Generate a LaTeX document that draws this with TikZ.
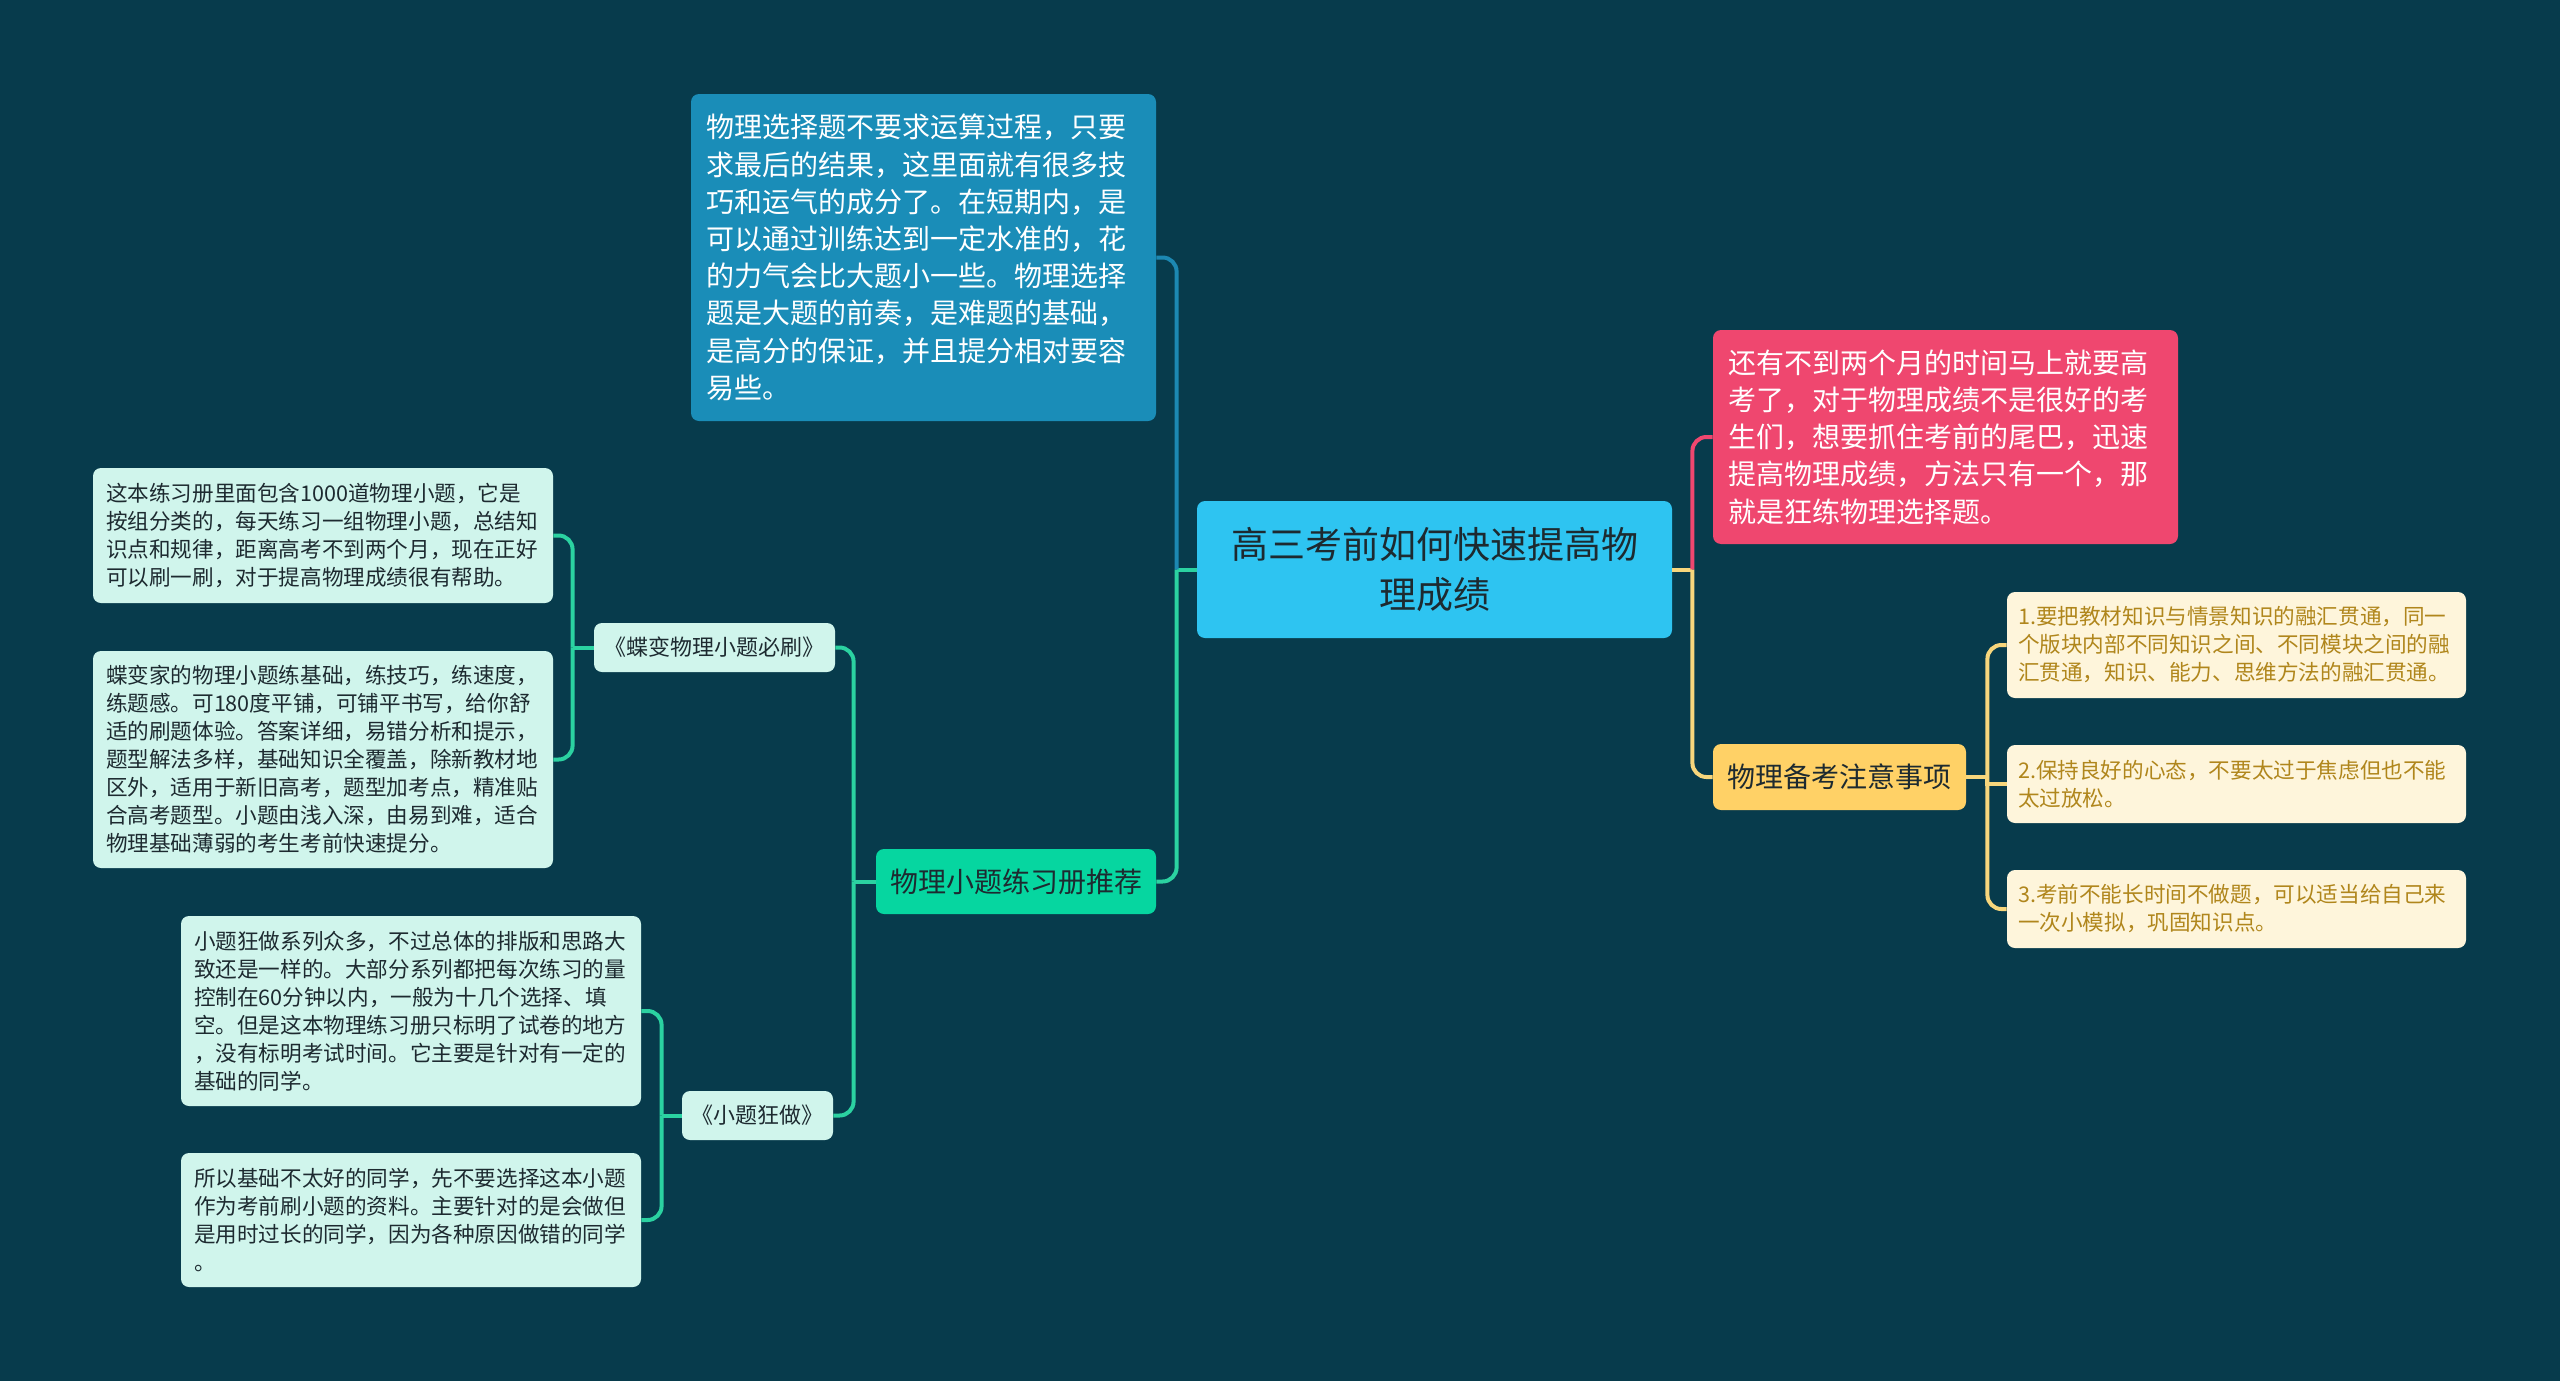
\documentclass[tikz,border=0pt]{standalone}
\usepackage{fontspec}
\setmainfont{Noto Sans CJK SC}
\usepackage{xcolor}
\usepackage{tikz}
\definecolor{pbg}{HTML}{073B4C}
\definecolor{proot}{HTML}{2EC4F1}
\definecolor{pblue}{HTML}{1A8DB8}
\definecolor{pblued}{HTML}{1C88B2}
\definecolor{ppink}{HTML}{EF476F}
\definecolor{pgreen}{HTML}{06D6A0}
\definecolor{pgreend}{HTML}{2BD2A1}
\definecolor{pyellow}{HTML}{FFD166}
\definecolor{pyellowd}{HTML}{F7D67C}
\definecolor{pmint}{HTML}{D0F5EC}
\definecolor{pcream}{HTML}{FEF5DB}
\definecolor{pcreamt}{HTML}{B0861C}
\definecolor{pink}{HTML}{1D2A30}
\newcommand{\szroot}{\fontsize{18.5pt}{25pt}\selectfont}
\newcommand{\szcard}{\fontsize{14pt}{18.6pt}\selectfont}
\newcommand{\sztitle}{\fontsize{11pt}{13pt}\selectfont}
\newcommand{\szleaf}{\fontsize{10.8pt}{14pt}\selectfont}
\tikzset{
  % Rounded card in one of the palette colours.
  card/.style    = {rectangle, rounded corners=4pt, fill=#1, inner ysep=0pt},
  card/.default  = pmint,
  bigcard/.style = {card=#1, text=white, font=\szcard, align=left,
                    inner xsep=7.5pt, text width=217.5pt},
  head/.style    = {card=#1, text=pink, font=\szcard, align=center, inner xsep=0pt},
  title/.style   = {card=pmint, text=pink, font=\sztitle, align=center, inner xsep=0pt,
                    minimum height=24.5pt},
  leaf/.style    = {card=pmint, text=pink, font=\szleaf, align=left,
                    inner xsep=6.5pt, text width=217pt},
  tip/.style     = {card=pcream, text=pcreamt, font=\szleaf, align=left,
                    inner xsep=5.5pt, text width=218.5pt},
  link/.style    = {line width=2pt, draw=#1},
  twig/.style    = {line width=2pt, draw=#1, rounded corners=7pt},
}
\begin{document}
\begin{tikzpicture}[x=0.5pt, y=-0.5pt]
\fill[pbg] (0,0) rectangle (2560,1381);
\node[card=proot, text=pink, font=\szroot, align=center, minimum width=237.5pt,
      minimum height=68.5pt] (root) at (1434.5,569.5) {高三考前如何快速提高物\\理成绩};
\node[bigcard=pblue, minimum height=163.5pt] (info) at (923.5,257.5)
  {物理选择题不要求运算过程，只要\\求最后的结果，这里面就有很多技\\巧和运气的成分了。在短期内，是\\可以通过训练达到一定水准的，花\\的力气会比大题小一些。物理选择\\题是大题的前奏，是难题的基础，\\是高分的保证，并且提分相对要容\\易些。};
\node[bigcard=ppink, minimum height=107pt] (intro) at (1945.5,437)
  {还有不到两个月的时间马上就要高\\考了，对于物理成绩不是很好的考\\生们，想要抓住考前的尾巴，迅速\\提高物理成绩，方法只有一个，那\\就是狂练物理选择题。};
\node[head=pgreen, minimum width=140pt, minimum height=32.5pt] (books) at (1016,881.5) {物理小题练习册推荐};
\node[head=pyellow, minimum width=126.5pt, minimum height=33pt] (tips) at (1839.5,777) {物理备考注意事项};
\node[title, minimum width=120.5pt] (diebian) at (714.5,647.5) {《蝶变物理小题必刷》};
\node[title, minimum width=75.5pt] (kuangzuo) at (757.5,1115.5) {《小题狂做》};
\node[leaf, minimum height=67.5pt] (dbA) at (323,535.5)
  {这本练习册里面包含1000道物理小题，它是\\按组分类的，每天练习一组物理小题，总结知\\识点和规律，距离高考不到两个月，现在正好\\可以刷一刷，对于提高物理成绩很有帮助。};
\node[leaf, minimum height=108.5pt] (dbB) at (323,759.5)
  {蝶变家的物理小题练基础，练技巧，练速度，\\练题感。可180度平铺，可铺平书写，给你舒\\适的刷题体验。答案详细，易错分析和提示，\\题型解法多样，基础知识全覆盖，除新教材地\\区外，适用于新旧高考，题型加考点，精准贴\\合高考题型。小题由浅入深，由易到难，适合\\物理基础薄弱的考生考前快速提分。};
\node[leaf, minimum height=95pt] (kzA) at (411,1011)
  {小题狂做系列众多，不过总体的排版和思路大\\致还是一样的。大部分系列都把每次练习的量\\控制在60分钟以内，一般为十几个选择、填\\空。但是这本物理练习册只标明了试卷的地方\\，没有标明考试时间。它主要是针对有一定的\\基础的同学。};
\node[leaf, minimum height=67pt] (kzB) at (411,1220)
  {所以基础不太好的同学，先不要选择这本小题\\作为考前刷小题的资料。主要针对的是会做但\\是用时过长的同学，因为各种原因做错的同学\\。};
\node[tip, minimum height=53pt] (tipA) at (2236.5,645)
  {1.要把教材知识与情景知识的融汇贯通，同一\\个版块内部不同知识之间、不同模块之间的融\\汇贯通，知识、能力、思维方法的融汇贯通。};
\node[tip, minimum height=39pt] (tipB) at (2236.5,784)
  {2.保持良好的心态，不要太过于焦虑但也不能\\太过放松。};
\node[tip, minimum height=39pt] (tipC) at (2236.5,909)
  {3.考前不能长时间不做题，可以适当给自己来\\一次小模拟，巩固知识点。};
% left of the root
\draw[link=pgreend] (root.west) -- ++(-20,0) coordinate (rootl);
\draw[twig=pblued] (rootl) |- (info.east);
\draw[twig=pgreend] (rootl) |- (books.east);
% right of the root
\draw[link=pyellowd] (root.east) -- ++(20,0) coordinate (rootr);
\draw[twig=ppink] (rootr) |- (intro.west);
\draw[twig=pyellowd] (rootr) |- (tips.west);
% workbook branch
\draw[link=pgreend] (books.west) -- ++(-22,0) coordinate (booksl);
\draw[twig=pgreend] (booksl) |- (diebian.east);
\draw[twig=pgreend] (booksl) |- (kuangzuo.east);
\draw[link=pgreend] (diebian.west) -- ++(-21,0) coordinate (diebianl);
\draw[twig=pgreend] (diebianl) |- (dbA.east);
\draw[twig=pgreend] (diebianl) |- (dbB.east);
\draw[link=pgreend] (kuangzuo.west) -- ++(-20,0) coordinate (kuangzuol);
\draw[twig=pgreend] (kuangzuol) |- (kzA.east);
\draw[twig=pgreend] (kuangzuol) |- (kzB.east);
% tips branch
\draw[link=pyellowd] (tips.east) -- ++(21,0) coordinate (tipsr);
\draw[twig=pyellowd] (tipsr) |- (tipA.west);
\draw[link=pyellowd] (tipsr) |- (tipB.west);
\draw[twig=pyellowd] (tipsr) |- (tipC.west);
\end{tikzpicture}
\end{document}
